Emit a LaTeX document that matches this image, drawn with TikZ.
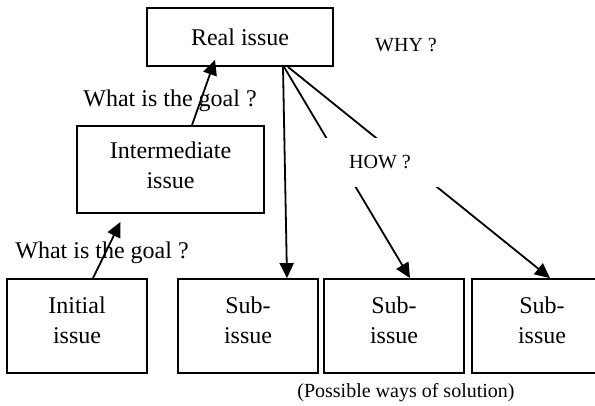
\documentclass[tikz,border=0pt]{standalone}
\usepackage{fontspec}
\setmainfont{Liberation Serif}
\usepackage{tikz}
\usetikzlibrary{arrows.meta}
\tikzstyle{issuebox}=[rectangle,draw,line width=1.8pt,inner sep=0pt,align=center,font=\fontsize{24}{30}\selectfont]
\tikzstyle{askline}=[line width=1.8pt,-{Triangle[length=15pt,width=14pt]}]
\tikzstyle{qlabel}=[font=\fontsize{20}{24}\selectfont,inner sep=0pt]
\tikzstyle{goal}=[font=\fontsize{24}{30}\selectfont,anchor=base,inner sep=0pt]

\begin{document}
\begin{tikzpicture}[x=1pt,y=-1pt]
        \useasboundingbox (0,0) rectangle (595,405);
        % issues
        \node[issuebox,minimum width=186pt,minimum height=58pt] (real) at (240,37) {Real issue};
        \node[issuebox,minimum width=187pt,minimum height=87pt,text depth=8pt] (inter) at (170.5,169.5) {Intermediate\\issue};
        \node[issuebox,minimum width=140pt,minimum height=94pt,text depth=12pt] (init) at (77,326) {Initial\\issue};
        \node[issuebox,minimum width=140pt,minimum height=94pt,text depth=12pt] (sub1) at (248,326) {Sub-\\issue};
        \node[issuebox,minimum width=140pt,minimum height=94pt,text depth=12pt] (sub2) at (394,326) {Sub-\\issue};
        \node[issuebox,minimum width=140pt,minimum height=94pt,text depth=12pt] (sub3) at (542,326) {Sub-\\issue};
        % why
        \draw[askline] ([xshift=16pt]init.north) -- ([xshift=-50pt,yshift=-8pt]inter.south);
        \draw[askline] ([xshift=21.5pt]inter.north) -- ([xshift=-25pt,yshift=7pt]real.south);
        \node[goal] (goaldown) at (102,258) {What is the goal ?};
        \node[goal] (goalup) at (170,106) {What is the goal ?};
        \node[qlabel,anchor=base] (why) at (406,51) {WHY ?};
        % how
        \draw[askline] ([xshift=43pt]real.south) -- ([xshift=39pt]sub1.north);
        \draw[askline] ([xshift=44pt]real.south) -- ([xshift=16pt]sub2.north);
        \draw[askline] ([xshift=48pt]real.south) -- ([xshift=8pt]sub3.north);
        \node[qlabel,fill=white,minimum width=130pt,minimum height=49pt] (how) at (380,162.5) {HOW ?};
        \node[qlabel,anchor=base] (ways) at (406,397) {(Possible ways of solution)};
\end{tikzpicture}
\end{document}
